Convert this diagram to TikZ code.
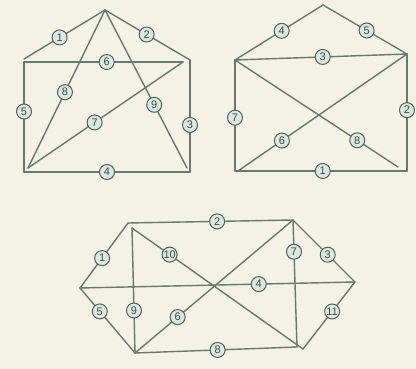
\documentclass[tikz,border=0pt]{standalone}
\usepackage{fontspec}
\setmainfont{Liberation Sans}
\definecolor{bgc}{HTML}{F4F1E6}
\definecolor{linec}{HTML}{67796F}
\definecolor{ringc}{HTML}{4F6259}
\definecolor{fillc}{HTML}{DCE8DF}
\definecolor{textc}{HTML}{3C4A43}
\begin{document}
\begin{tikzpicture}[x=1pt,y=-1pt,
  edge/.style={draw=linec,line width=1.4pt,line cap=round,line join=round},
  num/.style={circle,draw=ringc,fill=fillc,line width=1pt,minimum size=15pt,inner sep=0pt,
    text=textc,font=\fontsize{11}{11}\selectfont}]
\fill[bgc] (0,0) rectangle (416,369);
\useasboundingbox (0,0) rectangle (416,369);
% ---------- Figure 1 ----------
\coordinate (a1) at (105,10);
\coordinate (lr1) at (24,59);
\coordinate (tl1) at (24,62);
\coordinate (tr1) at (183,62);
\coordinate (rr1) at (190,60);
\coordinate (bl1) at (24,172);
\coordinate (br1) at (190,172);
\coordinate (s1) at (28,168);
\coordinate (s2) at (187,168);
\draw[edge] (a1) -- (lr1) node[num,pos=0.56] (n11) {1};
\draw[edge] (a1) -- (rr1) node[num,pos=0.49] (n12) {2};
\draw[edge] (tl1) -- (tr1) node[num,pos=0.52] (n16) {6};
\draw[edge] (tl1) -- (bl1) node[num,pos=0.45] (n15) {5};
\draw[edge] (rr1) -- (br1) node[num,pos=0.58] (n13) {3};
\draw[edge] (bl1) -- (br1) node[num,pos=0.5] (n14) {4};
\draw[edge] (a1) -- (s1) node[num,pos=0.52] (n18) {8};
\draw[edge] (a1) -- (s2) node[num,pos=0.6] (n19) {9};
\draw[edge] (tr1) -- (s1) node[num,pos=0.57] (n17) {7};
% ---------- Figure 2 ----------
\coordinate (a2) at (323,5);
\coordinate (tl2) at (235,60);
\coordinate (tr2) at (407,54);
\coordinate (bl2) at (235,171);
\coordinate (br2) at (407,171);
\coordinate (d1) at (398,167);
\coordinate (d2) at (238,171);
\draw[edge] (a2) -- (tl2) node[num,pos=0.47] (n24) {4};
\draw[edge] (a2) -- (tr2) node[num,pos=0.52] (n25) {5};
\draw[edge] (tl2) -- (tr2) node[num,pos=0.51] (n23) {3};
\draw[edge] (tl2) -- (bl2) node[num,pos=0.52] (n27) {7};
\draw[edge] (tr2) -- (br2) node[num,pos=0.48] (n22) {2};
\draw[edge] (bl2) -- (br2) node[num,pos=0.51] (n21) {1};
\draw[edge] (tr2) -- (d2) node[num,pos=0.74] (n26) {6};
\draw[edge] (tl2) -- (d1) node[num,pos=0.75] (n28) {8};
% ---------- Figure 3 ----------
\coordinate (l3) at (80,288);
\coordinate (tl3) at (128,223);
\coordinate (tr3) at (293,220);
\coordinate (r3) at (355,282);
\coordinate (br3) at (303,349);
\coordinate (bl3) at (135,353);
\coordinate (p3) at (132,228);
\coordinate (q3) at (297,347);
\draw[edge] (tl3) -- (l3) node[num,pos=0.54] (n31) {1};
\draw[edge] (tl3) -- (tr3) node[num,pos=0.54] (n32) {2};
\draw[edge] (tr3) -- (r3) node[num,pos=0.56] (n33) {3};
\draw[edge] (l3) -- (r3) node[num,pos=0.65] (n34) {4};
\draw[edge] (l3) -- (bl3) node[num,pos=0.36] (n35) {5};
\draw[edge] (bl3) -- (tr3) node[num,pos=0.27] (n36) {6};
\draw[edge] (tr3) -- (q3) node[num,pos=0.25] (n37) {7};
\draw[edge] (bl3) -- (q3) node[num,pos=0.51] (n38) {8};
\draw[edge] (p3) -- (bl3) node[num,pos=0.66] (n39) {9};
\draw[edge] (p3) -- (br3) node[num,pos=0.22] (n310) {10};
\draw[edge] (br3) -- (r3) node[num,pos=0.56] (n311) {11};
\end{tikzpicture}
\end{document}
